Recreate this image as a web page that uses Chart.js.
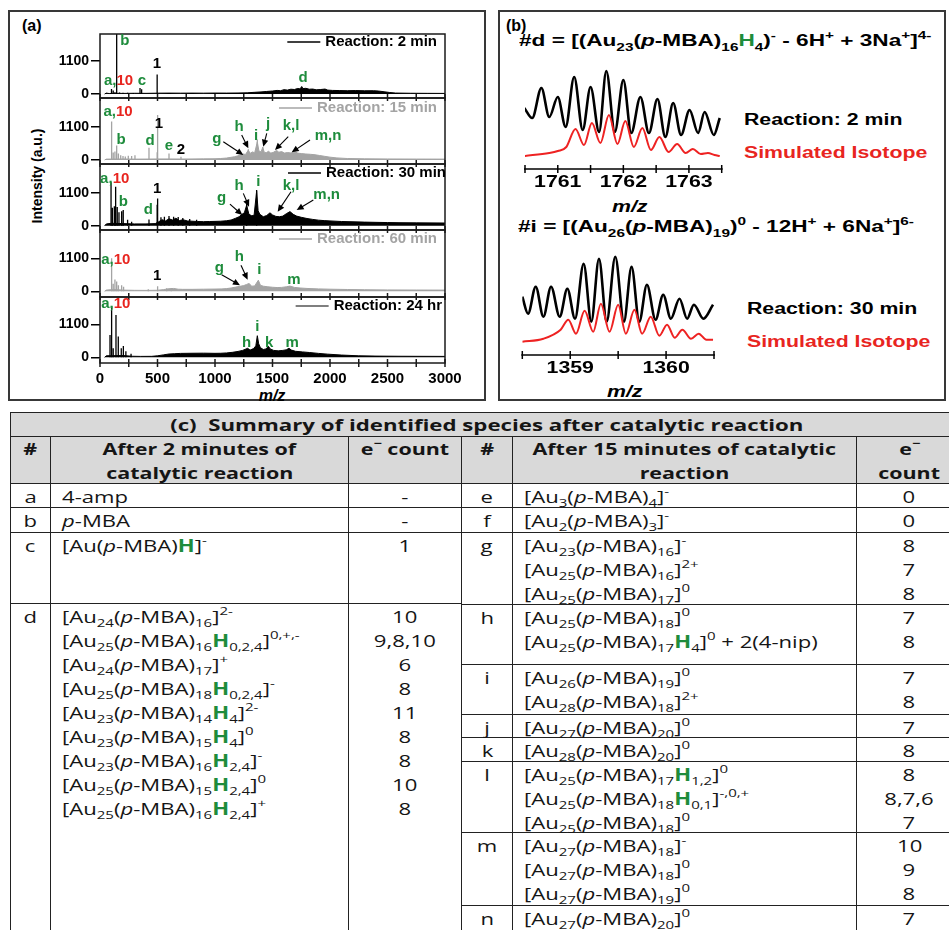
<!DOCTYPE html>
<html>
<head>
<meta charset="utf-8">
<title>Catalytic reaction mass spectra</title>
<script src="https://cdn.jsdelivr.net/npm/chart.js@4.4.1/dist/chart.umd.min.js"></script>
<style>
  body { margin: 0; width: 949px; height: 930px; overflow: hidden; background: #fff; position: relative; font-family: "Liberation Sans", Arial, sans-serif; }
  .box { position: absolute; border: 2px solid #383838; }
  canvas { position: absolute; }
  .lbl { position: absolute; font-weight: bold; white-space: nowrap; line-height: 20px; }
  .st { position: absolute; white-space: nowrap; font-weight: bold; transform-origin: left center; line-height: 20px; }
  .st sub, .st sup { font-size: 0.68em; line-height: 0; }
  .st sub { vertical-align: -0.4em; }
  .st sup { vertical-align: 0.65em; }
  .g { color: #1e8c3c; }
  .r { color: #e8251f; }
  .cell { position: absolute; box-sizing: border-box; border-right: 1.5px solid #222; border-bottom: 1.5px solid #222; font-family: "Open Sans", sans-serif; font-size: 17px; color: #151515; padding-top: 1px; }
  .cell.hd { background: #d9d9d9; font-weight: bold; font-size: 16px; padding-top: 0; }
  .ln { height: 24px; line-height: 24px; white-space: nowrap; }
  .ln span { display: inline-block; transform: scaleX(1.3); transform-origin: left center; }
  .hd .ln span { transform: scaleX(1.34); }
  .hd.title .ln span { transform: scaleX(1.39); }
  .ctr { text-align: center; }
  .ctr .ln span { transform-origin: center center; }
  .sp { padding-left: 11px; }
  .cell sub, .cell sup { font-size: 0.68em; line-height: 0; }
  .cell sub { vertical-align: -0.38em; }
  .cell sup { vertical-align: 0.7em; }
  .cell b.g { font-weight: bold; }
</style>
</head>
<body>

<div class="box" style="left:8px;top:10px;width:474px;height:387px"></div>
<div class="box" style="left:498px;top:10px;width:444px;height:387px"></div>

<div class="lbl" style="left:22px;top:16px;font-size:16px">(a)</div>
<div class="lbl" style="left:37px;top:176px;font-size:14px;transform:translate(-50%,-50%) rotate(-90deg)">Intensity (a.u.)</div>
<div class="lbl" style="left:272px;top:396px;font-size:16px;font-style:italic;transform:translate(-50%,-50%)">m/z</div>

<canvas id="s1" width="420" height="70" style="left:30px;top:31px"></canvas>
<canvas id="s2" width="420" height="72" style="left:30px;top:95px"></canvas>
<canvas id="s3" width="420" height="72" style="left:30px;top:161px"></canvas>
<canvas id="s4" width="420" height="73" style="left:30px;top:227px"></canvas>
<canvas id="s5" width="445" height="115" style="left:30px;top:294px"></canvas>

<div class="lbl" style="left:506px;top:16px;font-size:16px">(b)</div>
<div class="st" style="left:519px;top:31px;font-size:17px;transform:scaleX(1.33)">#d = [(Au<sub>23</sub>(<i>p</i>-MBA)<sub>16</sub><span class="g">H</span><sub>4</sub>)<sup>-</sup> - 6H<sup>+</sup> + 3Na<sup>+</sup>]<sup>4-</sup></div>
<div class="st" style="left:744px;top:110px;font-size:16px;transform:scaleX(1.33)">Reaction: 2 min</div>
<div class="st r" style="left:744px;top:143px;font-size:16px;transform:scaleX(1.33)">Simulated Isotope</div>
<div class="st" style="left:612px;top:197px;font-size:16px;font-style:italic;transform:scaleX(1.33)">m/z</div>
<div class="st" style="left:518px;top:217px;font-size:17px;transform:scaleX(1.33)">#i = [(Au<sub>26</sub>(<i>p</i>-MBA)<sub>19</sub>)<sup>0</sup> - 12H<sup>+</sup> + 6Na<sup>+</sup>]<sup>6-</sup></div>
<div class="st" style="left:747px;top:299px;font-size:16px;transform:scaleX(1.33)">Reaction: 30 min</div>
<div class="st r" style="left:747px;top:332px;font-size:16px;transform:scaleX(1.33)">Simulated Isotope</div>
<div class="st" style="left:607px;top:382px;font-size:16px;font-style:italic;transform:scaleX(1.33)">m/z</div>

<canvas id="iso1" width="240" height="145" style="left:500px;top:50px"></canvas>
<canvas id="iso2" width="230" height="150" style="left:500px;top:236px"></canvas>

<div id="tbl"></div>

<script>
// ---------- panel (a): ESI mass spectra, [m/z, intensity] ----------
const mzTicks = [0, 500, 1000, 1500, 2000, 2500, 3000];
const mzTickMarks = [0, 250, 500, 750, 1000, 1250, 1500, 1750, 2000, 2250, 2500, 2750, 3000];
const intensityTicks = [0, 1100];

// broad envelope of each spectrum
const env2min = [[40,0],[55,30],[80,15],[120,25],[200,20],[300,25],[400,22],[500,28],[600,30],[700,28],[800,30],[900,28],[1000,32],[1100,30],[1200,34],[1280,40],[1340,55],[1400,70],[1450,85],[1500,100],[1540,120],[1570,110],[1600,145],[1630,130],[1660,160],[1690,150],[1720,185],[1740,170],[1754,250],[1765,180],[1790,190],[1820,160],[1850,165],[1880,140],[1920,150],[1957,165],[1980,130],[2020,120],[2080,115],[2150,110],[2220,115],[2300,108],[2380,110],[2420,100],[2470,75],[2520,50],[2570,32],[2700,25],[2850,22],[3000,20]];
const env15min = [[40,0],[55,30],[200,35],[300,30],[400,32],[500,35],[600,35],[700,33],[800,35],[900,38],[1000,42],[1050,50],[1100,65],[1140,90],[1170,110],[1200,140],[1225,170],[1245,200],[1265,185],[1290,330],[1305,220],[1325,270],[1345,240],[1368,600],[1382,300],[1400,270],[1415,420],[1428,260],[1445,240],[1465,290],[1485,230],[1505,250],[1536,320],[1555,260],[1580,280],[1605,230],[1630,250],[1660,235],[1696,270],[1720,230],[1750,215],[1790,200],[1830,190],[1870,175],[1910,150],[1950,125],[2000,95],[2060,70],[2150,50],[2300,40],[2500,35],[2750,32],[3000,30]];
const env30min = [[40,0],[55,60],[100,80],[200,70],[300,60],[400,60],[480,70],[510,130],[540,200],[570,160],[600,230],[630,190],[660,250],[690,170],[720,200],[760,160],[800,150],[850,140],[900,135],[950,140],[1000,145],[1050,150],[1100,165],[1140,190],[1180,250],[1210,300],[1235,380],[1255,430],[1275,680],[1295,380],[1320,330],[1340,350],[1362,1150],[1375,500],[1390,380],[1420,300],[1450,340],[1478,430],[1500,360],[1530,310],[1560,300],[1590,320],[1620,400],[1652,470],[1680,380],[1710,320],[1750,280],[1800,240],[1850,210],[1900,185],[1950,170],[2000,160],[2100,140],[2200,130],[2300,120],[2400,112],[2500,105],[2600,100],[2750,95],[3000,90]];
const env60min = [[40,0],[55,40],[120,60],[200,40],[300,32],[400,30],[500,35],[550,55],[600,85],[640,95],[680,70],[720,65],[800,65],[900,70],[1000,75],[1060,80],[1100,90],[1140,110],[1180,140],[1215,165],[1250,190],[1275,230],[1296,260],[1320,170],[1345,180],[1377,370],[1395,200],[1420,170],[1460,150],[1500,135],[1540,125],[1580,130],[1620,150],[1652,175],[1690,130],[1740,110],[1800,95],[1900,80],[2000,70],[2150,60],[2300,52],[2500,45],[2750,42],[3000,40]];
const env24hr = [[40,0],[55,50],[200,60],[280,35],[350,30],[450,32],[500,50],[550,80],[600,110],[650,120],[700,130],[800,135],[900,138],[1000,132],[1050,135],[1100,145],[1150,165],[1200,195],[1240,230],[1284,300],[1305,240],[1335,290],[1355,380],[1368,720],[1380,450],[1395,320],[1420,260],[1445,280],[1464,370],[1480,280],[1510,230],[1550,215],[1590,230],[1620,250],[1643,300],[1665,240],[1700,200],[1760,180],[1820,160],[1900,130],[1980,105],[2100,75],[2250,50],[2400,40],[2600,35],[2800,32],[3000,30]];

// narrow stick peaks
const peaks2min = [[100,170],[115,120],[130,60],[145,2300],[170,50],[200,40],[240,40],[290,35],[348,200],[362,160],[497,650]];
const peaks15min = [[101,1280],[115,250],[130,280],[145,480],[160,220],[180,160],[200,130],[220,120],[246,140],[275,130],[304,160],[426,410],[497,260],[501,1500],[600,220],[704,110],[1290,360],[1368,680],[1415,430]];
const peaks30min = [[96,1450],[108,600],[125,650],[136,1300],[150,620],[165,450],[188,480],[202,520],[240,200],[275,130],[426,210],[497,700],[501,910],[530,280],[560,300],[600,320],[640,300],[680,290],[720,260],[780,220],[840,200],[1275,780],[1362,1190]];
const peaks60min = [[101,1100],[115,250],[130,390],[145,330],[160,200],[188,200],[205,150],[420,70],[501,170],[580,100],[620,110]];
const peaks24hr = [[87,740],[101,1690],[115,300],[139,1410],[159,690],[185,300],[203,380],[225,200],[270,120]];

// peak labels: [text parts], m/z, intensity
const labels2min = [
  { parts: [['a,', 'g'], ['10', 'r']], mz: 161, v: 433 },
  { parts: [['b', 'g']], mz: 217, v: 1765 },
  { parts: [['c', 'g']], mz: 365, v: 433 },
  { parts: [['1', 'k']], mz: 496, v: 1000 },
  { parts: [['d', 'g']], mz: 1765, v: 533 }
];
const labels15min = [
  { parts: [['a,', 'g'], ['10', 'r']], mz: 157, v: 1600 },
  { parts: [['b', 'g']], mz: 183, v: 667 },
  { parts: [['d', 'g']], mz: 435, v: 633 },
  { parts: [['1', 'k']], mz: 513, v: 1200 },
  { parts: [['e', 'g']], mz: 600, v: 467 },
  { parts: [['2', 'k']], mz: 704, v: 333 },
  { parts: [['g', 'g']], mz: 1017, v: 700 },
  { parts: [['h', 'g']], mz: 1209, v: 1100 },
  { parts: [['i', 'g']], mz: 1357, v: 800 },
  { parts: [['j', 'g']], mz: 1461, v: 1200 },
  { parts: [['k,l', 'g']], mz: 1661, v: 1133 },
  { parts: [['m,n', 'g']], mz: 1983, v: 800 }
];
const arrows15min = [[1072,611,1246,167],[1232,833,1290,390],[1450,889,1420,444],[1637,777,1522,333],[1826,667,1667,255]];
const labels30min = [
  { parts: [['a,', 'g'], ['10', 'r']], mz: 128, v: 1578 },
  { parts: [['b', 'g']], mz: 203, v: 800 },
  { parts: [['1', 'k']], mz: 498, v: 1245 },
  { parts: [['d', 'g']], mz: 420, v: 523 },
  { parts: [['g', 'g']], mz: 1058, v: 912 },
  { parts: [['h', 'g']], mz: 1209, v: 1322 },
  { parts: [['i', 'g']], mz: 1377, v: 1465 },
  { parts: [['k,l', 'g']], mz: 1661, v: 1322 },
  { parts: [['m,n', 'g']], mz: 1971, v: 1022 }
];
const arrows30min = [[1130,722,1237,356],[1246,1078,1296,633],[1661,1133,1545,466],[1855,856,1710,523]];
const labels60min = [
  { parts: [['a,', 'g'], ['10', 'r']], mz: 138, v: 1053 },
  { parts: [['1', 'k']], mz: 498, v: 520 },
  { parts: [['g', 'g']], mz: 1038, v: 776 },
  { parts: [['h', 'g']], mz: 1212, v: 1132 },
  { parts: [['i', 'g']], mz: 1386, v: 720 },
  { parts: [['m', 'g']], mz: 1687, v: 366 }
];
const arrows60min = [[1058,553,1217,200],[1226,866,1284,386]];
const labels24hr = [
  { parts: [['a,', 'g'], ['10', 'r']], mz: 138, v: 1775 },
  { parts: [['i', 'g']], mz: 1368, v: 1010 },
  { parts: [['h', 'g']], mz: 1275, v: 476 },
  { parts: [['k', 'g']], mz: 1470, v: 476 },
  { parts: [['m', 'g']], mz: 1672, v: 476 }
];

// ---------- panel (b): isotope patterns, [m/z, intensity] ----------
const isoDTicks = [1760.5, 1761, 1761.5, 1762, 1762.5, 1763, 1763.5];
const isoDExp = [[1760.49,52],[1760.61,42],[1760.75,72],[1760.87,43],[1761.00,63],[1761.12,33],[1761.25,83],[1761.38,30],[1761.50,73],[1761.63,28],[1761.74,89],[1761.87,28],[1762.00,80],[1762.12,27],[1762.26,63],[1762.39,27],[1762.52,61],[1762.64,23],[1762.76,57],[1762.88,25],[1763.01,50],[1763.14,27],[1763.24,48],[1763.38,25],[1763.47,42]];
const isoDSim = [[1760.49,4],[1760.87,7],[1761.00,9],[1761.13,13],[1761.27,31],[1761.40,15],[1761.52,37],[1761.65,17],[1761.78,45],[1761.91,16],[1762.03,39],[1762.16,13],[1762.29,32],[1762.42,10],[1762.55,23],[1762.69,8],[1762.82,16],[1762.95,7],[1763.06,11],[1763.18,6],[1763.29,7],[1763.39,5],[1763.47,4]];
const isoITicks = [1358.5, 1359, 1359.5, 1360, 1360.5];
const isoIExp = [[1358.50,50],[1358.56,33],[1358.64,60],[1358.72,30],[1358.80,60],[1358.89,30],[1358.97,58],[1359.05,28],[1359.14,83],[1359.22,25],[1359.30,88],[1359.38,25],[1359.47,90],[1359.56,25],[1359.64,80],[1359.72,25],[1359.80,62],[1359.89,27],[1359.97,52],[1360.05,28],[1360.14,48],[1360.22,28],[1360.29,42],[1360.39,28],[1360.49,42]];
const isoISim = [[1358.50,5],[1358.72,8],[1358.90,17],[1358.98,27],[1359.06,13],[1359.15,36],[1359.24,15],[1359.32,43],[1359.41,15],[1359.50,42],[1359.58,13],[1359.67,37],[1359.75,13],[1359.84,30],[1359.93,11],[1360.01,22],[1360.09,9],[1360.17,17],[1360.26,8],[1360.34,13],[1360.42,7],[1360.49,7]];

// ---------- panel (c): table ----------
const leftIds = ['a', 'b', 'c', 'd'];
const leftSpecies = [
  ['4-amp'],
  ['p-MBA'],
  ['[Au(p-MBA)H*]^-'],
  ['[Au_24(p-MBA)_16]^2-', '[Au_25(p-MBA)_16H*_0,2,4]^0,+,-', '[Au_24(p-MBA)_17]^+', '[Au_25(p-MBA)_18H*_0,2,4]^-', '[Au_23(p-MBA)_14H*_4]^2-', '[Au_23(p-MBA)_15H*_4]^0', '[Au_23(p-MBA)_16H*_2,4]^-', '[Au_25(p-MBA)_15H*_2,4]^0', '[Au_25(p-MBA)_16H*_2,4]^+']
];
const leftCounts = [['-'], ['-'], ['1'], ['10', '9,8,10', '6', '8', '11', '8', '8', '10', '8']];
const rightIds = ['e', 'f', 'g', 'h', 'i', 'j', 'k', 'l', 'm', 'n'];
const rightSpecies = [
  ['[Au_3(p-MBA)_4]^-'],
  ['[Au_2(p-MBA)_3]^-'],
  ['[Au_23(p-MBA)_16]^-', '[Au_25(p-MBA)_16]^2+', '[Au_25(p-MBA)_17]^0'],
  ['[Au_25(p-MBA)_18]^0', '[Au_25(p-MBA)_17H*_4]^0 + 2(4-nip)'],
  ['[Au_26(p-MBA)_19]^0', '[Au_28(p-MBA)_18]^2+'],
  ['[Au_27(p-MBA)_20]^0'],
  ['[Au_28(p-MBA)_20]^0'],
  ['[Au_25(p-MBA)_17H*_1,2]^0', '[Au_25(p-MBA)_18H*_0,1]^-,0,+', '[Au_25(p-MBA)_18]^0'],
  ['[Au_27(p-MBA)_18]^-', '[Au_27(p-MBA)_18]^0', '[Au_27(p-MBA)_19]^0'],
  ['[Au_27(p-MBA)_20]^0']
];
const rightCounts = [['0'], ['0'], ['8', '7', '8'], ['7', '8'], ['7', '8'], ['7'], ['8'], ['8', '8,7,6', '7'], ['10', '9', '8'], ['7']];

const COLORS = { g: '#1e8c3c', r: '#e8251f', k: '#000000' };
const FONT = '"Liberation Sans", Arial, sans-serif';
const decorations = {};

function drawArrow(ctx, x0, y0, x1, y1) {
  const ang = Math.atan2(y1 - y0, x1 - x0), L = 7, W = 3.2;
  ctx.beginPath();
  ctx.moveTo(x0, y0);
  ctx.lineTo(x1 - Math.cos(ang) * L * 0.7, y1 - Math.sin(ang) * L * 0.7);
  ctx.stroke();
  ctx.beginPath();
  ctx.moveTo(x1, y1);
  ctx.lineTo(x1 - L * Math.cos(ang) + W * Math.sin(ang), y1 - L * Math.sin(ang) - W * Math.cos(ang));
  ctx.lineTo(x1 - L * Math.cos(ang) - W * Math.sin(ang), y1 - L * Math.sin(ang) + W * Math.cos(ang));
  ctx.closePath();
  ctx.fill();
}

// frame, crossing tick marks, peak labels, arrows and legend line of each spectrum
const specDecor = {
  id: 'specDecor',
  afterDatasetsDraw(chart) {
    const deco = decorations[chart.canvas.id];
    const { ctx, chartArea: a, scales: { x, y } } = chart;
    ctx.save();
    ctx.strokeStyle = '#1a1a1a';
    ctx.lineWidth = 1.5;
    ctx.strokeRect(a.left, a.top, a.right - a.left, a.bottom - a.top);
    mzTickMarks.forEach(v => {
      const px = x.getPixelForValue(v);
      ctx.beginPath();
      ctx.moveTo(px, a.bottom - 4);
      ctx.lineTo(px, a.bottom + 4);
      ctx.stroke();
    });
    ctx.strokeStyle = '#000';
    ctx.fillStyle = '#000';
    ctx.lineWidth = 1.1;
    (deco.arrows || []).forEach(r => drawArrow(ctx, x.getPixelForValue(r[0]), y.getPixelForValue(r[1]), x.getPixelForValue(r[2]), y.getPixelForValue(r[3])));
    ctx.font = 'bold 15px ' + FONT;
    ctx.textBaseline = 'middle';
    ctx.textAlign = 'left';
    deco.labels.forEach(l => {
      const w = l.parts.reduce((s, p) => s + ctx.measureText(p[0]).width, 0);
      let px = x.getPixelForValue(l.mz) - w / 2;
      const py = y.getPixelForValue(l.v);
      l.parts.forEach(p => {
        ctx.fillStyle = COLORS[p[1]];
        ctx.fillText(p[0], px, py);
        px += ctx.measureText(p[0]).width;
      });
    });
    const lg = deco.legend;
    const tw = ctx.measureText(lg.text).width;
    const tx = a.right - lg.dx - tw, ty = a.top + lg.dy;
    ctx.fillStyle = lg.color;
    ctx.fillText(lg.text, tx, ty);
    ctx.strokeStyle = lg.line;
    ctx.lineWidth = 1.5;
    ctx.beginPath();
    ctx.moveTo(tx - 5 - 33, ty);
    ctx.lineTo(tx - 5, ty);
    ctx.stroke();
    ctx.restore();
  }
};

function spectrum(id, env, peaks, color, yMin, yMax, deco, showX) {
  decorations[id] = deco;
  return new Chart(document.getElementById(id), {
    type: 'line',
    data: {
      datasets: [
        { data: env.map(p => ({ x: p[0], y: p[1] })), borderColor: color, backgroundColor: color, borderWidth: 1, fill: 'origin', pointRadius: 0, tension: 0 },
        { data: peaks.flatMap(p => [{ x: p[0], y: 0 }, { x: p[0], y: p[1] }, { x: p[0], y: null }]), borderColor: color, borderWidth: 1.3, fill: false, pointRadius: 0, tension: 0, spanGaps: false }
      ]
    },
    options: {
      responsive: false,
      animation: false,
      events: [],
      layout: { padding: { top: 3, right: showX ? 30 : 5, bottom: 3, left: 0 } },
      plugins: { legend: { display: false }, tooltip: { enabled: false } },
      scales: {
        x: {
          type: 'linear', min: 0, max: 3000, display: showX,
          afterFit: s => { if (showX) s.height = 43; s.paddingLeft = 0; s.paddingRight = 0; },
          afterBuildTicks: s => { s.ticks = mzTicks.map(v => ({ value: v })); },
          grid: { display: false, drawTicks: false },
          border: { display: false },
          ticks: { color: '#000', font: { family: FONT, weight: 'bold', size: 15 }, padding: 7, maxRotation: 0, autoSkip: false, callback: v => String(v) }
        },
        y: {
          min: yMin, max: yMax,
          afterFit: s => { s.width = 70; s.paddingTop = 0; s.paddingBottom = 0; },
          afterBuildTicks: s => { s.ticks = intensityTicks.map(v => ({ value: v })); },
          grid: { drawOnChartArea: false, drawTicks: true, tickLength: 9, color: '#000', lineWidth: 1.5 },
          border: { display: false },
          ticks: { color: '#000', font: { family: FONT, weight: 'bold', size: 14 }, padding: 2, callback: v => String(v) }
        }
      }
    },
    plugins: [specDecor]
  });
}

const GRAY = '#a4a4a4';
spectrum('s1', env2min, peaks2min, '#000', -133, 2000,
  { labels: labels2min, legend: { text: 'Reaction: 2 min', line: '#000', color: '#000', dx: 8, dy: 8 } }, false);
spectrum('s2', env15min, peaks15min, GRAY, -133, 2067,
  { labels: labels15min, arrows: arrows15min, legend: { text: 'Reaction: 15 min', line: GRAY, color: GRAY, dx: 8, dy: 10 } }, false);
spectrum('s3', env30min, peaks30min, '#000', -143, 2057,
  { labels: labels30min, arrows: arrows30min, legend: { text: 'Reaction: 30 min', line: '#000', color: '#000', dx: -1, dy: 9 } }, false);
spectrum('s4', env60min, peaks60min, GRAY, -190, 2043,
  { labels: labels60min, arrows: arrows60min, legend: { text: 'Reaction: 60 min', line: GRAY, color: GRAY, dx: 8, dy: 9 } }, false);
spectrum('s5', env24hr, peaks24hr, '#000', -190, 2010,
  { labels: labels24hr, legend: { text: 'Reaction: 24 hr', line: '#555', color: '#000', dx: 3, dy: 9 } }, true);

// isotope axis: line, crossing ticks, stretched integer labels
const isoTicksById = { iso1: isoDTicks, iso2: isoITicks };
const isoAxis = {
  id: 'isoAxis',
  afterDatasetsDraw(chart) {
    const { ctx, chartArea: a, scales: { x } } = chart;
    const ticks = isoTicksById[chart.canvas.id];
    ctx.save();
    ctx.strokeStyle = '#000';
    ctx.lineWidth = 1.5;
    ctx.beginPath();
    ctx.moveTo(a.left - 1, a.bottom);
    ctx.lineTo(a.right + 1, a.bottom);
    ctx.stroke();
    ticks.forEach(v => {
      const px = x.getPixelForValue(v);
      ctx.beginPath();
      ctx.moveTo(px, a.bottom - 4);
      ctx.lineTo(px, a.bottom + 4);
      ctx.stroke();
      if (Number.isInteger(v)) {
        ctx.save();
        ctx.translate(px, a.bottom + 14);
        ctx.scale(1.33, 1);
        ctx.font = 'bold 16px ' + FONT;
        ctx.textAlign = 'center';
        ctx.textBaseline = 'middle';
        ctx.fillStyle = '#000';
        ctx.fillText(String(v), 0, 0);
        ctx.restore();
      }
    });
    ctx.restore();
  }
};

function isotope(id, exp, sim, xMin, xMax, yMin, pad) {
  return new Chart(document.getElementById(id), {
    type: 'line',
    data: {
      datasets: [
        { data: sim.map(p => ({ x: p[0], y: p[1] })), borderColor: '#ee2222', borderWidth: 2, pointRadius: 0, cubicInterpolationMode: 'monotone', fill: false },
        { data: exp.map(p => ({ x: p[0], y: p[1] })), borderColor: '#000', borderWidth: 2.6, pointRadius: 0, cubicInterpolationMode: 'monotone', fill: false }
      ]
    },
    options: {
      responsive: false,
      animation: false,
      events: [],
      layout: { padding: pad },
      plugins: { legend: { display: false }, tooltip: { enabled: false } },
      scales: {
        x: { type: 'linear', min: xMin, max: xMax, display: false },
        y: { min: yMin, max: 100, display: false }
      }
    },
    plugins: [isoAxis]
  });
}

isotope('iso1', isoDExp, isoDSim, 1760.5, 1763.5, -9, { left: 25, right: 18.3, top: 10, bottom: 26 });
isotope('iso2', isoIExp, isoISim, 1358.5, 1360.5, -8.3, { left: 22.3, right: 16, top: 10.7, bottom: 31 });

// ---------- table ----------
function chem(s) {
  return s.replace(/p-MBA/g, '<i>p</i>-MBA')
    .replace(/H\*/g, '<b class="g">H</b>')
    .replace(/_([0-9,]+)/g, '<sub>$1</sub>')
    .replace(/\^([-+0-9,]+)/g, '<sup>$1</sup>');
}

const tbl = document.getElementById('tbl');
const leftCols = [10, 50.7, 349.3, 461.7];
const rightCols = [461.7, 513.3, 856.7, 963];
const leftRowEdges = [484, 508, 533, 604, 945];
const rightRowEdges = [484, 508, 533, 605, 665, 715, 738, 762, 833, 906, 945];

function cell(x0, y0, x1, y1, cls, lines) {
  const d = document.createElement('div');
  d.className = 'cell ' + cls;
  d.style.left = x0 + 'px';
  d.style.top = y0 + 'px';
  d.style.width = (x1 - x0) + 'px';
  d.style.height = (y1 - y0) + 'px';
  if (x0 === 10) d.style.borderLeft = '1.5px solid #222';
  if (y0 === 412) d.style.borderTop = '1.5px solid #222';
  d.innerHTML = lines.map(t => '<div class="ln"><span>' + t + '</span></div>').join('');
  tbl.appendChild(d);
}

cell(10, 412, 963, 437, 'hd ctr title', ['(c)&nbsp; Summary of identified species after catalytic reaction']);
cell(leftCols[0], 437, leftCols[1], 484, 'hd ctr', ['#']);
cell(leftCols[1], 437, leftCols[2], 484, 'hd ctr', ['After 2 minutes of', 'catalytic reaction']);
cell(leftCols[2], 437, leftCols[3], 484, 'hd ctr', ['e<sup>&minus;</sup> count']);
cell(rightCols[0], 437, rightCols[1], 484, 'hd ctr', ['#']);
cell(rightCols[1], 437, rightCols[2], 484, 'hd ctr', ['After 15 minutes of catalytic', 'reaction']);
cell(rightCols[2], 437, rightCols[3], 484, 'hd ctr', ['e<sup>&minus;</sup>', 'count']);

leftIds.forEach((id, i) => {
  const y0 = leftRowEdges[i], y1 = leftRowEdges[i + 1];
  cell(leftCols[0], y0, leftCols[1], y1, 'ctr', [id]);
  cell(leftCols[1], y0, leftCols[2], y1, 'sp', leftSpecies[i].map(chem));
  cell(leftCols[2], y0, leftCols[3], y1, 'ctr', leftCounts[i]);
});
rightIds.forEach((id, i) => {
  const y0 = rightRowEdges[i], y1 = rightRowEdges[i + 1];
  cell(rightCols[0], y0, rightCols[1], y1, 'ctr', [id]);
  cell(rightCols[1], y0, rightCols[2], y1, 'sp', rightSpecies[i].map(chem));
  cell(rightCols[2], y0, rightCols[3], y1, 'ctr', rightCounts[i]);
});
</script>
</body>
</html>
